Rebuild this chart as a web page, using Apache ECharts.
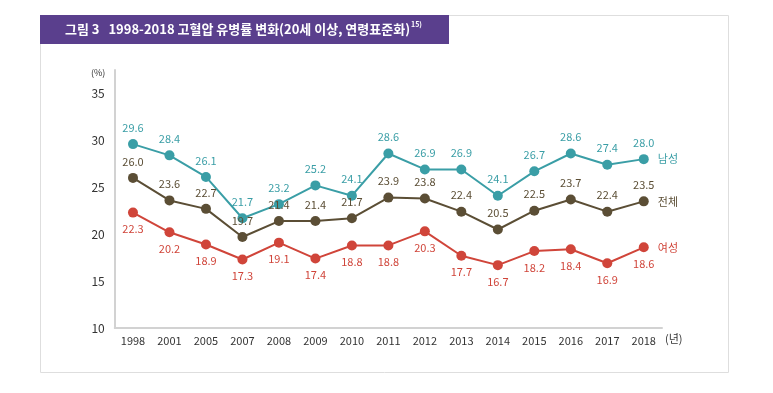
<!DOCTYPE html>
<html><head><meta charset="utf-8">
<script src="https://cdn.jsdelivr.net/npm/echarts@6/dist/echarts.min.js"></script>
<style>html,body{margin:0;padding:0;background:#fff}#c{width:773px;height:393px}</style>
</head><body><div id="c"></div>
<script>
var years = ['1998','2001','2005','2007','2008','2009','2010','2011','2012','2013','2014','2015','2016','2017','2018'];
var male = [29.6,28.4,26.1,21.7,23.2,25.2,24.1,28.6,26.9,26.9,24.1,26.7,28.6,27.4,28.0];
var total = [26.0,23.6,22.7,19.7,21.4,21.4,21.7,23.9,23.8,22.4,20.5,22.5,23.7,22.4,23.5];
var female = [22.3,20.2,18.9,17.3,19.1,17.4,18.8,18.8,20.3,17.7,16.7,18.2,18.4,16.9,18.6];
var yTicks = [10,15,20,25,30,35];

var FONT = '"Noto Sans CJK KR", "Noto Sans", sans-serif';
function mk(name, data, color, labelColor, pos) {
  return {
    name: name, type: 'line', data: data,
    symbol: 'circle', symbolSize: 10,
    lineStyle: {color: color, width: 2},
    itemStyle: {color: color},
    label: {show: true, position: pos, distance: 6, color: labelColor, fontSize: 11, fontFamily: FONT,
      formatter: function(p){ return p.value.toFixed(1); }},
    endLabel: {show: true, formatter: name, color: labelColor, fontSize: 11, fontFamily: FONT, distance: 14},
    silent: true, animation: false
  };
}
var chart = echarts.init(document.getElementById('c'));
chart.setOption({
  animation: false,
  textStyle: {fontFamily: FONT},
  grid: {left: 114.75, right: 111, top: 70, bottom: 65},
  xAxis: {
    type: 'category', data: years, boundaryGap: true,
    axisLine: {lineStyle: {color: '#d2d2d2', width: 2}},
    axisTick: {show: false},
    axisLabel: {color: '#333', fontSize: 11, margin: 7, fontFamily: FONT}
  },
  yAxis: {
    type: 'value', min: 10, max: 37.5, interval: 5,
    axisLine: {show: true, lineStyle: {color: '#d2d2d2', width: 2}},
    axisTick: {show: false},
    splitLine: {show: false},
    axisLabel: {color: '#333', fontSize: 12, margin: 10, fontFamily: FONT,
      formatter: function(v){ return yTicks.indexOf(v) >= 0 ? String(v) : ''; }}
  },
  graphic: [
    {type: 'rect', shape: {x: 40.5, y: 15.5, width: 688, height: 357}, style: {fill: 'none', stroke: '#dedede', lineWidth: 1}, silent: true},
    {type: 'rect', shape: {x: 40, y: 15, width: 409, height: 29}, style: {fill: '#5a3f8d'}, silent: true},
    {type: 'text', left: 65, top: 21, style: {
      text: '{t|그림 3   1998-2018 고혈압 유병률 변화(20세 이상, 연령표준화)}{s|15)}',
      rich: {
        t: {fill: '#fff', fontSize: 13, fontWeight: 'bold', fontFamily: FONT, verticalAlign: 'bottom'},
        s: {fill: '#fff', fontSize: 7, fontWeight: 'bold', fontFamily: FONT, verticalAlign: 'top', padding: [0,0,8,1]}
      }}, silent: true},
    {type: 'text', left: 91, top: 68, style: {text: '(%)', fill: '#333', fontSize: 9, fontFamily: FONT}, silent: true},
    {type: 'text', left: 665, top: 333, style: {text: '(년)', fill: '#333', fontSize: 11, fontFamily: FONT}, silent: true}
  ],
  series: [
    mk('남성', male, '#3a9ea6', '#3a9ea6', 'top'),
    mk('전체', total, '#5b4e35', '#5b4e35', 'top'),
    mk('여성', female, '#d0453a', '#d0453a', 'bottom')
  ]
});
</script></body></html>
